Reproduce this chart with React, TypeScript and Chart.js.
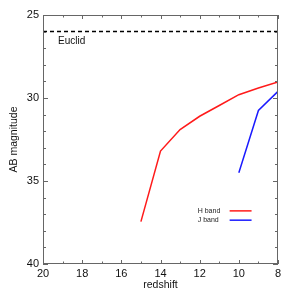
import React, { useEffect, useRef } from "react";
import { Chart, registerables } from "chart.js";

Chart.register(...registerables);

const redshiftH = [15, 14, 13, 12, 11, 10, 9, 8];
const magH = [37.45, 33.2, 31.9, 31.1, 30.45, 29.8, 29.4, 29.03];
const redshiftJ = [10, 9, 8];
const magJ = [34.5, 30.75, 29.6];
const euclidLimit = 26;
const euclidRange = [20, 8];
const xMajorTicks = [20, 18, 16, 14, 12, 10, 8];
const yMajorTicks = [25, 30, 35, 40];
const seriesNames = ["H band", "J band"];
const seriesColors = ["#ff1a1a", "#1a1aff"];
const euclidName = "Euclid";

const FONT = "'Liberation Sans', Arial, Helvetica, sans-serif";

const framePlugin = {
  id: "frame",
  afterDatasetsDraw(chart: any) {
    const { ctx, chartArea: a, scales } = chart;
    const xs = scales.x;
    const ys = scales.y;
    ctx.save();
    ctx.strokeStyle = "#666";
    ctx.lineWidth = 1;
    ctx.strokeRect(a.left + 0.5, a.top + 0.5, a.right - a.left - 1, a.bottom - a.top - 1);
    ctx.beginPath();
    for (let v = xs.min; v <= xs.max; v++) {
      const px = Math.round(xs.getPixelForValue(v)) + 0.5;
      const len = xMajorTicks.includes(v) ? 4 : 2.5;
      ctx.moveTo(px, a.bottom);
      ctx.lineTo(px, a.bottom - len);
      ctx.moveTo(px, a.top);
      ctx.lineTo(px, a.top + len);
    }
    for (let v = ys.min; v <= ys.max; v++) {
      const py = Math.round(ys.getPixelForValue(v)) + 0.5;
      const len = yMajorTicks.includes(v) ? 5 : 3;
      ctx.moveTo(a.left, py);
      ctx.lineTo(a.left + len, py);
      ctx.moveTo(a.right, py);
      ctx.lineTo(a.right - len, py);
    }
    ctx.stroke();

    // Euclid label
    ctx.fillStyle = "#111";
    ctx.font = `10px ${FONT}`;
    ctx.textAlign = "left";
    ctx.textBaseline = "middle";
    ctx.fillText(euclidName, xs.getPixelForValue(19.23), ys.getPixelForValue(26.57));

    // legend
    ctx.font = `7px ${FONT}`;
    seriesNames.forEach((name, i) => {
      const y = ys.getPixelForValue(36.8 + i * 0.56);
      ctx.fillStyle = "#222";
      ctx.textAlign = "left";
      ctx.fillText(name, xs.getPixelForValue(12.1), y);
      ctx.strokeStyle = seriesColors[i];
      ctx.lineWidth = 1.5;
      ctx.beginPath();
      ctx.moveTo(xs.getPixelForValue(10.47), y);
      ctx.lineTo(xs.getPixelForValue(9.35), y);
      ctx.stroke();
    });
    ctx.restore();
  },
};

export default function App() {
  const ref = useRef<HTMLCanvasElement>(null);
  useEffect(() => {
    const chart = new Chart(ref.current!, {
      type: "line",
      data: {
        datasets: [
          {
            label: euclidName,
            data: euclidRange.map((x) => ({ x, y: euclidLimit })),
            borderColor: "#000",
            borderWidth: 1.5,
            borderDash: [4, 3],
            pointRadius: 0,
          },
          {
            label: seriesNames[0],
            data: redshiftH.map((x, i) => ({ x, y: magH[i] })),
            borderColor: seriesColors[0],
            borderWidth: 1.5,
            pointRadius: 0,
          },
          {
            label: seriesNames[1],
            data: redshiftJ.map((x, i) => ({ x, y: magJ[i] })),
            borderColor: seriesColors[1],
            borderWidth: 1.5,
            pointRadius: 0,
          },
        ],
      },
      options: {
        responsive: false,
        animation: false,
        events: [],
        layout: { padding: { left: 0, right: 13, top: 15, bottom: 0 } },
        plugins: { legend: { display: false }, tooltip: { enabled: false } },
        scales: {
          x: {
            type: "linear",
            reverse: true,
            min: 8,
            max: 20,
            grid: { display: false, drawTicks: false },
            border: { display: false },
            afterFit: (s: any) => {
              s.height = 27;
            },
            ticks: {
              stepSize: 2,
              padding: 3,
              color: "#111",
              font: { family: FONT, size: 11 },
              maxRotation: 0,
            },
            title: {
              display: true,
              text: "redshift",
              color: "#111",
              font: { family: FONT, size: 10.5 },
              padding: { top: 0, bottom: 0 },
            },
          },
          y: {
            type: "linear",
            reverse: true,
            min: 25,
            max: 40,
            grid: { display: false, drawTicks: false },
            border: { display: false },
            afterFit: (s: any) => {
              s.width = 43;
            },
            ticks: {
              stepSize: 5,
              padding: 4,
              color: "#111",
              font: { family: FONT, size: 11 },
            },
            title: {
              display: true,
              text: "AB magnitude",
              color: "#111",
              font: { family: FONT, size: 10.5 },
              padding: { top: 8, bottom: 0 },
            },
          },
        },
      },
      plugins: [framePlugin],
    });
    return () => chart.destroy();
  }, []);
  return (
    <div style={{ position: "fixed", left: 0, top: 0, width: 291, height: 291, background: "#fff" }}>
      <canvas ref={ref} width={291} height={291} style={{ display: "block" }} />
    </div>
  );
}
